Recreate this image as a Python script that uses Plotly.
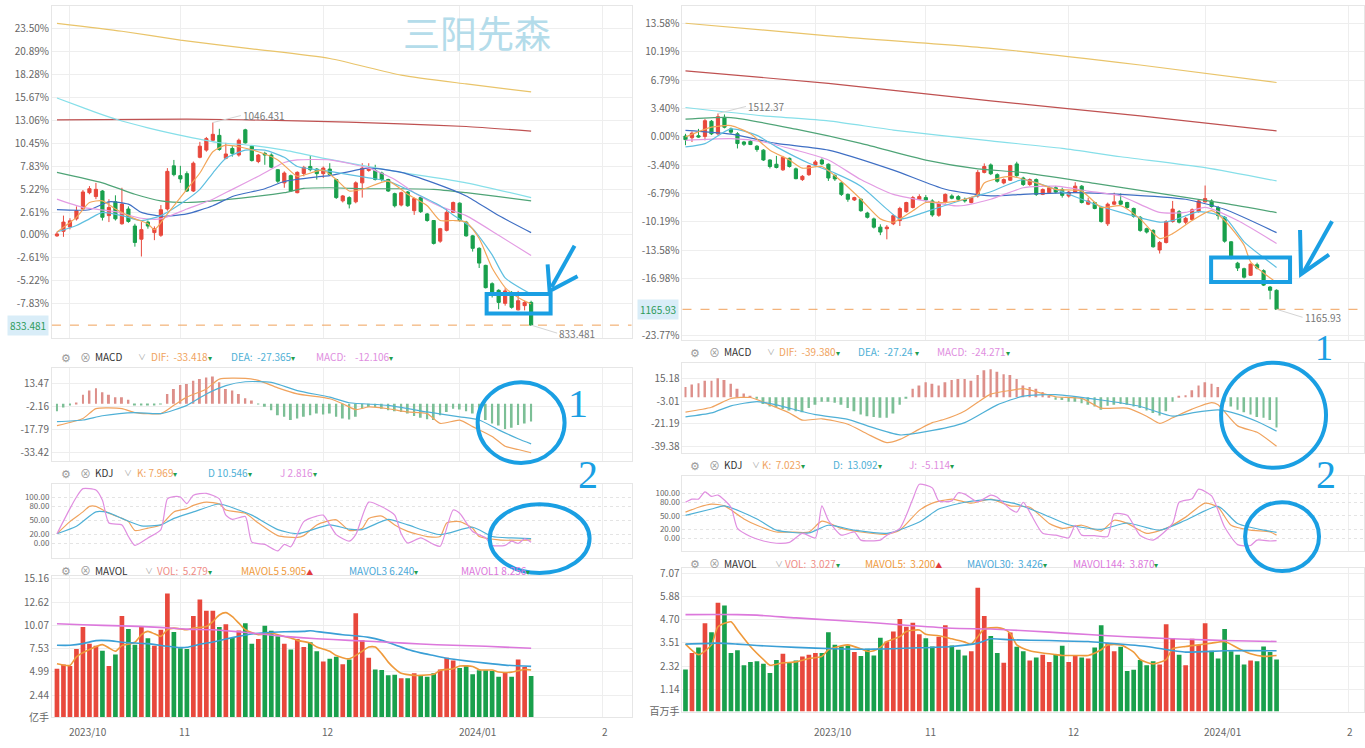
import plotly.graph_objects as go

W, H = 1365, 748
RED, GREEN = "#e8483c", "#19a04c"
MARK = "#1a9fe3"
GRID = "#eeeeee"
FONT = "Noto Sans CJK SC, Noto Sans, sans-serif"

MONTH_TEXT = ["2023/10", "11", "12", "2024/01", "2"]
L_MONTH_IDX = [2, 19, 41, 62, 84]
R_MONTH_IDX = [20, 37, 59, 80, 102]

# ---------------- left chart: % change, 2023-09-27 .. 2024-01-17 ----------------
L_OPEN = [-0.11, 0.41, 0.90, 1.83, 2.95, 4.81, 4.37, 5.00, 2.20, 3.77,
          1.27, 2.95, 1.01, -0.49, 1.46, 0.26, -0.04, 2.95, 7.87, 6.75,
          6.98, 5.00, 8.84, 9.66, 10.78, 11.34, 8.73, 9.85, 9.10, 11.97,
          10.11, 8.36, 9.29, 9.10, 7.43, 5.93, 6.75, 4.81, 7.00, 7.80,
          7.50, 6.98, 7.50, 6.31, 3.88, 4.25, 3.77, 5.93, 7.35, 7.35,
          7.05, 6.31, 4.70, 3.40, 4.89, 2.76, 4.25, 2.39, 1.64, -0.71,
          0.52, 2.57, 3.62, 1.46, -0.11, -1.53, -3.47, -5.56, -6.31, -7.80,
          -6.57, -8.54, -8.06, -7.69]
L_CLOSE = [0.11, 1.46, 1.60, 2.76, 4.89, 5.26, 5.19, 2.01, 3.13, 1.83,
           3.51, 1.53, -0.86, 0.60, 1.01, 0.71, 2.87, 7.24, 6.87, 6.38,
           5.00, 8.17, 10.11, 10.97, 11.46, 9.74, 9.22, 9.29, 10.78, 10.49,
           8.47, 9.10, 9.10, 7.72, 6.12, 7.05, 5.00, 7.13, 7.69, 7.43,
           6.98, 7.61, 6.87, 4.25, 4.44, 3.51, 5.93, 7.61, 7.61, 6.31,
           6.31, 5.00, 3.32, 4.81, 3.32, 4.14, 2.65, 1.64, -0.97, 0.71,
           2.57, 3.69, 1.64, -0.11, -1.53, -3.21, -6.01, -6.75, -7.69, -6.38,
           -8.25, -7.50, -7.69, -10.28]
L_HIGH = [0.34, 2.20, 1.90, 3.25, 5.11, 5.56, 5.93, 5.10, 4.07, 4.51,
          5.37, 3.25, 1.27, 1.46, 1.64, 0.97, 3.40, 7.61, 8.54, 7.87,
          7.24, 8.36, 10.60, 11.16, 12.80, 12.09, 10.49, 10.11, 10.97, 12.09,
          10.22, 9.22, 9.48, 9.29, 7.50, 7.24, 6.87, 7.24, 7.87, 9.10,
          7.61, 7.80, 8.17, 6.40, 4.55, 4.40, 6.10, 8.17, 8.17, 7.99,
          7.20, 6.40, 4.81, 4.93, 5.00, 4.25, 4.37, 2.50, 1.70, 0.80,
          2.95, 3.80, 3.70, 1.60, 0.00, -1.40, -3.40, -5.40, -6.20, -6.08,
          -6.40, -6.38, -7.50, -7.50]
L_LOW = [-0.22, -0.22, 0.63, 1.64, 2.76, 4.63, 4.07, 1.64, 1.46, 1.64,
         1.16, 1.38, -1.34, -2.46, 0.71, -0.60, -0.22, 2.76, 6.68, 5.93,
         4.89, 4.89, 8.73, 9.48, 10.71, 9.59, 8.62, 8.92, 8.92, 10.41,
         8.36, 8.17, 7.99, 7.61, 5.93, 5.37, 4.89, 4.74, 6.68, 7.24,
         6.31, 6.49, 6.75, 4.10, 3.70, 3.02, 3.60, 4.25, 7.20, 6.20,
         6.10, 4.90, 3.13, 3.25, 3.20, 2.28, 2.50, 1.50, -1.10, -0.90,
         0.40, 2.50, 1.50, -0.20, -1.90, -3.77, -6.10, -7.13, -8.47, -8.06,
         -8.40, -8.60, -8.60, -10.30]
L_VOL = [5.33, 5.80, 5.62, 7.49, 9.88, 8.07, 7.85, 7.28, 5.62, 6.88,
         11.10, 9.66, 7.96, 9.88, 8.65, 7.85, 9.59, 13.56, 9.34, 7.57,
         7.49, 11.10, 12.91, 11.68, 11.68, 9.88, 10.20, 8.69, 9.52, 10.31,
         8.07, 8.58, 10.02, 9.48, 8.87, 8.07, 7.42, 8.58, 7.71, 8.22,
         7.24, 6.12, 6.41, 6.63, 5.83, 6.34, 11.39, 8.43, 6.52, 5.25,
         5.18, 4.60, 4.68, 4.28, 4.28, 4.82, 4.60, 4.46, 4.82, 5.25,
         6.52, 6.23, 5.40, 5.72, 4.71, 5.15, 5.15, 5.07, 4.46, 4.89,
         4.46, 6.34, 5.51, 4.53]
L_HIST = [-5.1, -2.5, -1.0, 0.5, 6.1, 9.0, 10.6, 7.9, 6.1, 4.5,
          4.5, 2.7, -1.0, -1.0, -1.2, -1.0, -0.5, 6.7, 10.1, 12.8,
          13.5, 15.7, 16.8, 17.9, 18.6, 14.6, 10.1, 9.0, 6.7, 3.8,
          2.2, -0.5, -2.0, -4.5, -7.8, -8.9, -11.1, -10.0, -8.9, -7.8,
          -6.7, -7.4, -6.7, -8.9, -10.0, -10.7, -8.9, -3.4, -2.2, -2.2,
          -3.4, -4.5, -5.1, -5.6, -6.7, -8.3, -9.6, -10.5, -11.1, -7.8,
          -5.6, -3.4, -4.0, -5.1, -6.7, -8.9, -11.1, -13.4, -14.9, -17.2,
          -16.3, -14.5, -13.4, -12.1]

# lines as (session index, value)
L_MA500 = [(0, 24.1), (10, 23.2), (19, 22.2), (30, 21.2), (42, 20.1), (53, 18.2), (63, 17.2), (73, 16.3)]
L_MA250 = [(0, 13.1), (20, 13.2), (37, 13.0), (53, 12.65), (63, 12.35), (73, 11.83)]
L_MA120 = [(0, 15.6), (4, 14.5), (9, 13.2), (14, 12.2), (20, 11.2), (25, 10.5), (30, 10.2), (35, 9.66),
           (42, 8.6), (53, 7.13), (63, 5.93), (73, 4.25)]
L_MA60 = [(0, 7.13), (7, 5.93), (12, 4.63), (16, 3.88), (20, 3.69), (24, 3.88), (30, 4.33), (35, 4.81),
          (38, 5.3), (42, 5.37), (48, 5.26), (53, 5.26), (58, 5.19), (63, 4.81), (68, 4.37), (73, 3.88)]
L_MA30 = [(0, 2.87), (5, 2.87), (8, 3.77), (11, 3.5), (13, 2.57), (16, 2.13), (20, 2.39), (24, 3.32),
          (27, 4.37), (32, 5.26), (35, 6.08), (40, 6.6), (42, 6.75), (48, 7.61), (53, 7.13), (58, 5.93),
          (63, 4.44), (68, 2.2), (73, 0.26)]
L_MA20 = [(0, 4.07), (4, 3.13), (9, 2.65), (13, 1.9), (16, 1.83), (20, 2.95), (24, 4.07), (27, 5.19),
          (31, 6.68), (35, 8.25), (37, 8.54), (42, 8.54), (48, 7.61), (52, 6.31), (55, 4.81), (59, 3.25),
          (63, 2.2), (68, -0.04), (73, -2.35)]
L_MA10 = [(0, 0.34), (3, 1.08), (5, 1.83), (7, 2.57), (10, 2.2), (13, 1.64), (16, 2.2), (19, 3.51),
          (22, 5.19), (24, 7.05), (26, 8.73), (29, 9.66), (32, 9.66), (35, 8.84), (37, 7.8), (42, 7.24),
          (48, 6.49), (51, 6.12), (55, 4.81), (59, 3.32), (61, 2.28), (64, 0.71), (67, -2.28), (69, -4.89),
          (73, -6.75)]
L_MA5 = [(0, 0.34), (3, 2.0), (5, 3.69), (7, 3.88), (9, 2.95), (12, 1.83), (14, 1.27), (15, 0.6),
         (17, 2.4), (20, 5.19), (22, 7.05), (24, 9.48), (26, 10.22), (28, 10.04), (31, 9.48), (34, 8.54),
         (36, 7.24), (37, 6.68), (41, 7.37), (43, 6.3), (45, 5.0), (47, 5.19), (51, 6.12), (54, 4.63),
         (57, 3.32), (59, 1.64), (61, 1.64), (63, 1.46), (65, -0.41), (67, -3.77), (69, -6.0), (71, -7.13),
         (73, -7.87)]
L_MAVOL5 = [(0, 5.87), (2, 5.69), (3, 6.63), (5, 7.42), (7, 7.96), (8, 7.6), (9, 7.24), (10, 7.85),
            (12, 8.22), (13, 9.05), (14, 9.41), (15, 9.15), (16, 8.87), (17, 9.59), (18, 9.77), (20, 9.59),
            (21, 9.77), (23, 9.95), (24, 10.49), (25, 11.21), (26, 11.46), (27, 11.03), (28, 10.31),
            (29, 9.59), (31, 9.05), (33, 9.23), (34, 9.05), (36, 8.69), (37, 8.43), (39, 8.14), (40, 7.71),
            (42, 7.24), (43, 6.77), (45, 6.41), (47, 7.24), (48, 7.71), (49, 7.71), (50, 6.98), (51, 6.05),
            (52, 5.33), (53, 4.82), (55, 4.6), (56, 4.6), (58, 4.71), (59, 5.15), (61, 5.33), (62, 5.62),
            (64, 5.58), (65, 5.22), (67, 5.18), (68, 4.96), (70, 4.96), (72, 5.25), (73, 5.18)]
L_MAVOL30 = [(0, 7.89), (2, 7.89), (4, 8.07), (6, 8.4), (8, 8.4), (10, 8.22), (12, 8.14), (14, 8.07),
             (17, 7.78), (19, 7.64), (20, 7.67), (22, 8.0), (24, 8.26), (26, 8.58), (28, 8.87), (30, 9.12),
             (32, 9.26), (35, 9.37), (38, 9.41), (39, 9.48), (41, 9.3), (44, 9.05), (46, 8.94), (48, 8.76),
             (50, 8.43), (52, 7.96), (54, 7.42), (56, 7.06), (58, 6.77), (60, 6.48), (63, 6.19), (66, 5.94),
             (69, 5.72), (73, 5.58)]
L_MAVOL144 = [(0, 10.24), (4, 10.13), (10, 10.02), (15, 9.88), (20, 9.66), (24, 9.59), (26, 9.48),
              (30, 9.23), (35, 8.87), (40, 8.61), (45, 8.43), (51, 8.22), (56, 8.03), (61, 7.89),
              (66, 7.78), (73, 7.56)]
L_DIF = [(0, -14.9), (4, -10.0), (6, -3.3), (10, -3.3), (12, -6.0), (16, -6.7), (18, -1.1), (20, 4.5),
         (23, 10.1), (25, 16.8), (29, 17.3), (31, 15.9), (34, 10.8), (37, 6.7), (42, 3.4), (44, 0.0),
         (46, -4.0), (48, -2.2), (51, -3.4), (54, -5.6), (57, -6.7), (59, -13.4), (62, -11.2),
         (64, -15.6), (67, -22.3), (69, -29.0), (71, -31.2), (73, -33.4)]
L_DEA = [(0, -12.2), (4, -11.1), (7, -8.2), (12, -6.0), (16, -6.7), (20, -1.1), (23, 6.7), (26, 12.4),
         (29, 15.0), (33, 14.6), (37, 9.0), (42, 4.5), (45, 0.7), (51, -1.1), (57, -5.6), (62, -8.9),
         (65, -11.1), (68, -17.8), (71, -23.9), (73, -27.4)]
L_K = [(0, 21), (2, 47), (4, 68), (5, 80), (6, 80), (8, 65), (10, 54), (11, 47), (12, 28), (14, 33),
       (16, 40), (18, 68), (20, 75), (21, 82), (23, 89), (25, 85), (26, 72), (29, 65), (31, 44), (34, 17),
       (37, 13), (38, 17), (40, 40), (43, 51), (45, 28), (47, 33), (48, 54), (50, 59), (52, 40), (54, 26),
       (57, 15), (59, 15), (60, 44), (62, 47), (64, 33), (65, 15), (68, 8), (71, 7), (73, 8)]
L_D = [(0, 21), (3, 37), (6, 68), (8, 66), (10, 54), (13, 38), (16, 40), (18, 54), (21, 68), (25, 85),
       (28, 72), (30, 61), (34, 30), (37, 21), (42, 40), (45, 31), (47, 30), (51, 52), (54, 40), (59, 19),
       (64, 35), (67, 15), (70, 12), (73, 10.5)]
L_J = [(0, 21), (2, 75), (3, 100), (4, 118), (6, 115), (7, 93), (8, 44), (10, 40), (11, 15), (12, -4),
       (14, 12), (16, 30), (17, 96), (18, 101), (19, 100), (20, 86), (21, 104), (23, 108), (25, 96),
       (26, 61), (27, 52), (29, 58), (30, 3), (32, -2), (34, -16), (35, -2), (36, -7), (38, 47), (40, 59),
       (41, 61), (43, 19), (45, 5), (46, 19), (48, 89), (50, 79), (52, 61), (53, 21), (54, 1), (56, 12),
       (58, -2), (59, -6), (61, 72), (62, 65), (64, 26), (66, 12), (67, -4), (69, -4), (70, 5), (71, 0),
       (72, 10), (73, 2.8)]

# ---------------- right chart: % change, 2023-09-01 .. 2024-01-17 ----------------
R_OPEN = [0.08, -0.12, 0.12, 0.04, 1.85, 0.35, 2.32, 0.94, 0.35, -0.63,
          -0.55, -1.14, -1.61, -2.79, -3.30, -3.97, -2.59, -3.85, -5.14, -4.55,
          -3.38, -2.79, -3.30, -4.67, -5.54, -6.91, -7.58, -7.50, -9.15, -9.85,
          -10.84, -11.03, -10.44, -10.05, -8.99, -8.48, -7.50, -7.30, -7.70, -9.42,
          -7.81, -7.10, -7.18, -7.50, -7.89, -7.11, -4.28, -3.38, -4.55, -5.54,
          -5.22, -3.26, -4.95, -5.73, -5.14, -6.91, -6.71, -6.12, -6.32, -7.11,
          -6.64, -5.93, -8.09, -7.89, -8.48, -10.44, -8.09, -7.70, -7.89, -8.60,
          -9.66, -11.03, -11.23, -13.58, -12.68, -10.17, -8.99, -10.25, -9.93, -8.99,
          -7.81, -7.70, -8.48, -9.66, -12.60, -15.16, -15.82, -16.61, -15.35, -16.06,
          -18.02, -18.41]
R_CLOSE = [-0.35, 0.43, -0.04, 1.92, 0.35, 2.40, 1.14, 0.55, -0.82, -0.90,
           -0.94, -1.53, -2.79, -3.57, -3.69, -2.47, -3.57, -5.03, -4.75, -3.49,
           -3.02, -3.26, -4.95, -5.06, -6.91, -7.50, -7.30, -8.87, -9.66, -10.84,
           -11.43, -10.84, -9.46, -8.60, -7.89, -7.30, -7.18, -7.58, -9.38, -7.89,
           -6.91, -7.38, -7.50, -7.70, -7.30, -4.28, -3.57, -4.44, -5.34, -5.14,
           -3.46, -4.67, -5.73, -5.14, -6.91, -6.32, -6.12, -6.64, -7.03, -6.64,
           -5.93, -7.89, -7.70, -8.60, -10.17, -8.09, -7.81, -8.09, -8.48, -9.54,
           -11.23, -11.43, -13.19, -12.68, -10.17, -8.68, -10.25, -9.78, -8.76, -7.70,
           -7.42, -8.37, -9.46, -12.52, -14.57, -15.74, -16.84, -15.27, -15.74, -17.79,
           -18.41, -20.69]
R_HIGH = [0.35, 0.63, 0.94, 2.12, 2.00, 2.79, 2.67, 1.10, 0.55, -0.50,
          -0.40, -1.00, -1.50, -2.70, -2.30, -2.30, -2.50, -3.70, -4.60, -3.40,
          -2.80, -2.60, -3.20, -4.50, -5.40, -6.80, -7.20, -7.40, -9.00, -9.70,
          -10.50, -10.60, -9.30, -8.40, -7.80, -7.10, -6.90, -7.00, -7.50, -7.70,
          -6.80, -6.90, -7.00, -7.30, -7.20, -4.00, -3.20, -3.20, -4.40, -5.00,
          -3.38, -3.00, -4.80, -5.00, -5.00, -6.20, -5.90, -5.90, -6.10, -6.50,
          -5.46, -5.80, -7.30, -7.80, -8.30, -7.90, -6.71, -6.80, -7.80, -8.50,
          -9.50, -10.90, -11.10, -12.50, -10.00, -7.70, -8.80, -9.60, -8.60, -7.50,
          -5.85, -7.50, -8.30, -9.50, -12.50, -15.00, -15.70, -15.20, -15.10, -15.90,
          -17.90, -18.30]
R_LOW = [-1.02, -0.63, -0.12, -0.43, 0.20, 0.16, 1.00, 0.30, -1.41, -1.10,
         -1.00, -1.80, -2.90, -3.80, -3.80, -4.10, -3.70, -5.10, -5.30, -4.70,
         -3.60, -3.40, -5.30, -5.30, -7.10, -7.80, -7.70, -9.00, -9.80, -11.00,
         -11.80, -12.30, -10.60, -10.70, -9.10, -8.60, -7.60, -7.80, -9.60, -9.60,
         -8.00, -7.50, -7.70, -7.90, -8.00, -7.30, -4.40, -4.60, -5.50, -5.70,
         -5.30, -4.80, -5.90, -5.90, -7.10, -7.00, -6.80, -6.80, -7.30, -7.30,
         -6.70, -8.00, -8.20, -8.70, -10.30, -10.70, -8.20, -8.20, -8.60, -9.70,
         -11.40, -11.60, -13.30, -14.00, -12.80, -10.30, -10.40, -10.50, -10.00, -9.10,
         -7.90, -8.50, -9.93, -12.70, -14.70, -16.10, -17.00, -16.70, -15.90, -17.90,
         -19.50, -20.75]
R_VOL = [2.15, 2.99, 3.28, 4.51, 4.05, 5.57, 5.43, 2.99, 3.14, 2.37,
         2.54, 2.57, 2.44, 1.97, 2.64, 2.96, 2.54, 2.61, 2.82, 2.91,
         2.99, 2.99, 4.05, 3.41, 3.33, 3.38, 3.04, 2.84, 3.21, 2.86,
         3.78, 3.58, 4.09, 4.73, 4.34, 4.54, 3.95, 3.75, 3.33, 3.83,
         4.42, 3.38, 3.16, 2.86, 3.08, 6.33, 4.89, 3.87, 2.99, 2.49,
         4.04, 3.31, 3.08, 2.61, 2.77, 2.91, 2.54, 2.91, 3.36, 2.54,
         2.87, 2.77, 2.71, 3.28, 4.42, 3.50, 3.08, 3.31, 2.07, 2.14,
         2.64, 2.37, 2.57, 2.40, 4.46, 3.75, 2.91, 2.37, 3.72, 3.41,
         4.51, 3.11, 2.71, 4.22, 3.08, 2.91, 2.40, 2.61, 2.57, 3.33,
         3.04, 2.66]
R_HIST = [8.2, 10.2, 11.3, 13.4, 13.4, 15.4, 13.9, 10.8, 6.9, 3.0,
          1.0, -1.0, -5.4, -7.4, -8.0, -9.5, -10.6, -11.3, -12.1, -8.7,
          -6.1, -3.5, -3.5, -4.3, -6.1, -8.7, -11.3, -13.9, -15.2, -15.8,
          -16.5, -16.5, -13.1, -6.1, -1.0, 6.9, 9.5, 12.1, 10.8, 9.5,
          12.1, 13.9, 14.7, 14.7, 13.4, 18.0, 21.7, 22.5, 20.6, 18.6,
          18.0, 14.7, 9.5, 8.2, 6.9, 4.3, 1.0, -2.0, -2.2, -3.5,
          -3.5, -4.8, -6.1, -7.4, -10.0, -6.9, -6.1, -5.4, -6.1, -7.4,
          -8.7, -10.6, -12.6, -14.7, -11.3, -3.5, 0.5, 1.7, 5.6, 9.5,
          12.1, 10.8, 8.2, -3.5, -7.4, -10.0, -12.1, -13.9, -15.8, -16.5,
          -18.3, -24.3]

R_MA500 = [(0, 13.6), (22, 12.1), (47, 10.6), (70, 8.6), (91, 6.5)]
R_MA250 = [(0, 7.9), (22, 6.4), (47, 4.3), (70, 2.5), (91, 0.7)]
R_MA120 = [(0, 3.5), (12, 2.5), (22, 1.9), (32, 0.8), (47, -0.5), (58, -1.4), (67, -2.4), (80, -3.7),
           (91, -5.3)]
R_MA60 = [(0, 2.1), (7, 2.3), (17, 0.9), (27, -0.8), (37, -2.8), (45, -3.85), (52, -4.3), (63, -5.6),
          (73, -6.8), (83, -8.0), (91, -9.1)]
R_MA30 = [(0, 0.75), (7, 0.3), (14, -0.8), (22, -1.6), (32, -4.0), (40, -6.3), (47, -7.1), (52, -6.9),
          (60, -6.7), (67, -6.9), (77, -7.5), (83, -8.7), (91, -11.5)]
R_MA20 = [(0, -0.43), (7, -0.24), (12, -0.63), (17, -1.61), (22, -2.79), (27, -5.14), (32, -6.91),
          (37, -7.7), (42, -8.3), (47, -7.5), (52, -6.12), (57, -5.93), (62, -6.52), (67, -7.11),
          (73, -9.07), (77, -9.07), (80, -8.48), (85, -10.05), (91, -12.8)]
R_MA10 = [(0, -1.22), (3, -0.82), (7, 0.94), (11, 0.16), (14, -1.22), (19, -3.18), (23, -4.36),
          (27, -5.93), (31, -8.68), (33, -9.85), (36, -9.27), (39, -8.48), (43, -7.5), (47, -6.6),
          (52, -5.14), (57, -6.32), (63, -8.09), (67, -9.07), (73, -10.25), (75, -10.05), (79, -8.99),
          (83, -9.66), (86, -12.6), (91, -15.67)]
R_MA5 = [(0, -0.04), (4, 1.14), (7, 1.33), (10, 0.35), (13, -1.61), (16, -2.79), (18, -3.77), (21, -3.57),
         (24, -5.34), (27, -7.5), (30, -9.85), (32, -10.25), (35, -8.87), (37, -7.89), (40, -7.89),
         (43, -7.5), (45, -6.91), (46, -5.54), (50, -4.75), (54, -5.54), (57, -6.32), (61, -6.52),
         (64, -8.48), (67, -8.28), (70, -9.85), (73, -12.21), (75, -11.62), (78, -10.05), (81, -8.87),
         (83, -10.05), (86, -13.0), (87, -15.0), (89, -16.33), (91, -17.5)]
R_MAVOL5 = [(0, 3.45), (2, 2.91), (4, 3.41), (5, 4.34), (7, 4.59), (8, 4.17), (10, 3.33), (12, 2.66),
            (13, 2.37), (15, 2.49), (17, 2.54), (19, 2.71), (21, 2.82), (22, 3.16), (24, 3.36), (25, 3.41),
            (27, 3.21), (28, 3.08), (29, 3.11), (30, 3.28), (31, 3.58), (33, 3.83), (34, 4.09), (36, 4.17),
            (37, 3.95), (39, 3.88), (41, 3.72), (43, 3.55), (44, 3.45), (45, 3.83), (46, 4.22), (48, 4.29),
            (49, 4.22), (50, 4.0), (51, 3.41), (53, 3.11), (55, 2.99), (57, 2.91), (58, 2.87), (60, 2.87),
            (62, 2.87), (64, 3.16), (65, 3.41), (67, 3.41), (69, 3.04), (70, 2.66), (72, 2.44), (74, 2.66),
            (75, 3.21), (77, 3.33), (79, 3.41), (81, 3.5), (83, 3.58), (85, 3.25), (87, 2.95), (89, 2.82),
            (91, 2.87)]
R_MAVOL30 = [(0, 3.45), (5, 3.5), (8, 3.45), (11, 3.38), (17, 3.28), (23, 3.21), (29, 3.19), (35, 3.25),
             (41, 3.33), (45, 3.5), (47, 3.72), (50, 3.67), (56, 3.63), (62, 3.58), (65, 3.5), (71, 3.33),
             (77, 3.04), (83, 3.11), (91, 3.11)]
R_MAVOL144 = [(0, 4.96), (8, 4.96), (11, 4.93), (17, 4.79), (23, 4.67), (29, 4.54), (35, 4.39),
              (41, 4.26), (47, 4.22), (53, 4.12), (59, 4.0), (65, 3.88), (71, 3.78), (77, 3.7), (83, 3.63),
              (91, 3.58)]
R_DIF = [(0, -11.9), (4, -8.0), (7, -1.0), (10, -0.2), (13, -6.1), (16, -12.6), (18, -18.4), (21, -17.3),
         (25, -21.7), (28, -29.5), (31, -36.5), (33, -33.9), (36, -25.6), (38, -20.4), (40, -17.5),
         (43, -11.0), (45, -4.0), (47, 2.5), (50, 5.5), (52, 6.9), (55, 3.0), (57, 0.4), (61, -0.9),
         (64, -8.7), (68, -8.7), (71, -15.2), (73, -21.0), (75, -16.5), (78, -9.5), (81, -4.3), (82, -6.1),
         (85, -23.0), (88, -28.2), (91, -39.4)]
R_DEA = [(0, -15.8), (4, -12.6), (7, -6.9), (11, -3.5), (14, -6.1), (20, -14.0), (25, -17.8), (28, -23.0),
         (33, -30.3), (37, -27.7), (43, -20.4), (48, -6.1), (52, 0.9), (57, 2.2), (64, -2.2), (70, -7.4),
         (75, -15.2), (78, -12.5), (82, -10.2), (85, -13.5), (88, -19.5), (91, -27.2)]
R_K = [(0, 58), (2, 69), (4, 76), (6, 72), (9, 43), (11, 29), (14, 14), (16, 14), (19, 14), (21, 38),
       (24, 22), (27, 14), (31, 9), (33, 18), (36, 62), (38, 78), (41, 87), (44, 78), (47, 87), (50, 72),
       (53, 69), (56, 33), (58, 22), (61, 29), (64, 16), (66, 40), (68, 33), (71, 11), (74, 22), (77, 47),
       (80, 78), (82, 69), (84, 29), (87, 18), (90, 14), (91, 7)]
R_D = [(0, 51), (4, 65), (6, 72), (11, 43), (14, 18), (19, 12), (22, 29), (26, 18), (31, 11), (36, 36),
       (39, 65), (43, 80), (47, 86), (51, 76), (55, 54), (59, 30), (64, 20), (68, 34), (73, 18), (77, 40),
       (82, 71), (85, 33), (91, 13)]
R_J = [(0, 80), (1, 87), (2, 87), (3, 103), (4, 93), (5, 96), (7, 69), (8, 22), (10, 4), (12, -6),
       (14, -11), (16, -9), (18, 11), (20, 1), (21, 72), (22, 40), (24, 7), (26, 14), (27, -4), (30, -4),
       (31, 7), (33, 22), (35, 87), (36, 120), (38, 112), (39, 83), (41, 83), (42, 101), (43, 98),
       (45, 81), (47, 96), (48, 91), (50, 65), (51, 58), (52, 80), (53, 58), (55, 11), (57, 7), (59, 1),
       (60, 29), (61, 7), (63, 6), (65, 4), (66, 54), (68, 51), (70, 6), (72, -4), (75, 33), (76, 80),
       (78, 88), (79, 109), (81, 94), (83, 25), (85, -14), (87, -16), (88, -4), (90, -6), (91, -5.1)]

# axis ticks
L_PCT_TICKS = [23.50, 20.89, 18.28, 15.67, 13.06, 10.45, 7.83, 5.22, 2.61, 0.00, -2.61, -5.22, -7.83]
R_PCT_TICKS = [13.58, 10.19, 6.79, 3.40, 0.00, -3.40, -6.79, -10.19, -13.58, -16.98, -23.77]
L_MACD_TICKS = [13.47, -2.16, -17.79, -33.42]
R_MACD_TICKS = [15.18, -3.01, -21.19, -39.38]
KDJ_TICKS = [100, 80, 50, 20, 0]
L_VOL_TICKS = [15.16, 12.62, 10.07, 7.53, 4.99, 2.44]
R_VOL_TICKS = [7.07, 5.88, 4.70, 3.51, 2.32, 1.14]

MA_COLORS = ["#e9c46a", "#bf5151", "#86dfe9", "#4fa477", "#3f6fc4", "#e39be3", "#5fbfe0", "#f3a65a"]
C_ORANGE, C_BLUE, C_PINK = "#f0a35e", "#4fb0d6", "#e08ee0"
VOL_MA_COLORS = ["#ef9a3c", "#3a9fd6", "#dc78dc"]

fig = go.Figure()


def xy(n):
    return ("x" if n == 1 else "x%d" % n), ("y" if n == 1 else "y%d" % n)


def line(pts, color, n, width=1.2):
    xa, ya = xy(n)
    fig.add_trace(go.Scatter(x=[p[0] for p in pts], y=[p[1] for p in pts], mode="lines",
                             line=dict(color=color, width=width, shape="spline", smoothing=0.6),
                             xaxis=xa, yaxis=ya, hoverinfo="skip"))


def add_chart(n0, o, c, h, l, mas, vol, vol_mas, hist, dif, dea, k, d, j):
    xs = list(range(len(o)))
    xa, ya = xy(n0)
    fig.add_trace(go.Candlestick(x=xs, open=o, high=h, low=l, close=c, whiskerwidth=0,
                                 increasing=dict(line=dict(color=RED, width=1), fillcolor=RED),
                                 decreasing=dict(line=dict(color=GREEN, width=1), fillcolor=GREEN),
                                 xaxis=xa, yaxis=ya, hoverinfo="skip"))
    for pts, col in zip(mas, MA_COLORS):
        line(pts, col, n0)
    # MACD
    xa, ya = xy(n0 + 1)
    fig.add_trace(go.Bar(x=xs, y=hist, width=0.3,
                         marker=dict(color=["#dd8f8a" if v >= 0 else "#7cbf96" for v in hist], line_width=0),
                         xaxis=xa, yaxis=ya, hoverinfo="skip"))
    line(dif, C_ORANGE, n0 + 1)
    line(dea, C_BLUE, n0 + 1)
    # KDJ
    line(k, C_ORANGE, n0 + 2)
    line(d, C_BLUE, n0 + 2)
    line(j, C_PINK, n0 + 2)
    # volume
    xa, ya = xy(n0 + 3)
    fig.add_trace(go.Bar(x=xs, y=vol, width=0.72,
                         marker=dict(color=[RED if c[i] >= o[i] else GREEN for i in xs], line_width=0),
                         xaxis=xa, yaxis=ya, hoverinfo="skip"))
    for pts, col in zip(vol_mas, VOL_MA_COLORS):
        line(pts, col, n0 + 3, 1.6)


add_chart(1, L_OPEN, L_CLOSE, L_HIGH, L_LOW,
          [L_MA500, L_MA250, L_MA120, L_MA60, L_MA30, L_MA20, L_MA10, L_MA5],
          L_VOL, [L_MAVOL5, L_MAVOL30, L_MAVOL144], L_HIST, L_DIF, L_DEA, L_K, L_D, L_J)
add_chart(5, R_OPEN, R_CLOSE, R_HIGH, R_LOW,
          [R_MA500, R_MA250, R_MA120, R_MA60, R_MA30, R_MA20, R_MA10, R_MA5],
          R_VOL, [R_MAVOL5, R_MAVOL30, R_MAVOL144], R_HIST, R_DIF, R_DEA, R_K, R_D, R_J)

# panel geometry in screen pixels: (x-left, x-right, top, bottom, y-range, ticks, labels, griddash, font)
PANELS = {
    1: (52, 632, 0, 338, [-11.76, 26.08], L_PCT_TICKS, ["%.2f%%" % v for v in L_PCT_TICKS], "solid", 10),
    2: (52, 632, 368, 463, [-39.0, 24.64], L_MACD_TICKS, ["%.2f" % v for v in L_MACD_TICKS], "solid", 10),
    3: (52, 632, 486, 562, [-31.7, 129], KDJ_TICKS, ["%.2f" % v for v in KDJ_TICKS], "dot", 8),
    4: (52, 632, 580, 724, [0, 15.48], L_VOL_TICKS + [0], ["%.2f" % v for v in L_VOL_TICKS] + ["亿手"], "solid", 10),
    5: (683, 1365, 0, 340, [-24.38, 15.67], R_PCT_TICKS, ["%.2f%%" % v for v in R_PCT_TICKS], "solid", 10),
    6: (683, 1365, 363, 455, [-44.9, 27.83], R_MACD_TICKS, ["%.2f" % v for v in R_MACD_TICKS], "solid", 10),
    7: (683, 1365, 478, 555, [-29, 139], KDJ_TICKS, ["%.2f" % v for v in KDJ_TICKS], "dot", 8),
    8: (683, 1365, 572, 718, [0, 7.34], R_VOL_TICKS + [0], ["%.2f" % v for v in R_VOL_TICKS] + ["百万手"], "solid", 10),
}
layout_axes = {}
for n, (x0, x1, top, bottom, yr, tv, tt, dash, fs) in PANELS.items():
    xa, ya = xy(n)
    left = n <= 4
    layout_axes["xaxis" if n == 1 else "xaxis%d" % n] = dict(
        domain=[x0 / W, x1 / W], range=[-0.77, 88.46] if left else [-0.46, 104.46], anchor=ya,
        tickvals=L_MONTH_IDX if left else R_MONTH_IDX, showticklabels=False, ticks="",
        showgrid=True, gridcolor=GRID, zeroline=False, showline=True, linecolor="#e6e6e6", mirror=True,
        rangeslider=dict(visible=False), fixedrange=True)
    layout_axes["yaxis" if n == 1 else "yaxis%d" % n] = dict(
        domain=[1 - bottom / H, 1 - top / H], range=yr, anchor=xa, tickvals=tv, ticktext=tt,
        showgrid=True, gridcolor="#e4e4e4" if dash == "dot" else GRID, griddash=dash, zeroline=False,
        showline=True, linecolor="#e6e6e6", mirror=True, ticks="",
        tickfont=dict(size=fs, color="#666"), fixedrange=True)

annotations = []
shapes = []


def px(x, y):
    return x / W, 1 - y / H


def text_at(x, y, txt, size=10, color="#555", family=FONT, anchor="left"):
    ax, ay = px(x, y)
    annotations.append(dict(x=ax, y=ay, xref="paper", yref="paper", text=txt, showarrow=False,
                            xanchor=anchor, yanchor="middle", font=dict(size=size, color=color, family=family)))


DOWN = "<span style='color:#1f9d4d;font-size:8px'>▾</span>"
UP = "<span style='color:#e23b3b;font-size:7px'>▲</span>"


def header(x0, y, name, items, chevron_dx):
    text_at(x0, y, "⚙", 11, "#9a9a9a")
    text_at(x0 + 19, y, "⊗", 11, "#9a9a9a")
    text_at(x0 + 34, y, name, 10, "#333")
    text_at(x0 + chevron_dx, y, "∨", 8, "#aaa")
    for x, txt, col in items:
        text_at(x, y, txt, 10, col)


header(59, 357, "MACD", [(149, "DIF:&nbsp;&nbsp;-33.418" + DOWN, C_ORANGE),
                         (229, "DEA:&nbsp;&nbsp;-27.365" + DOWN, C_BLUE),
                         (314, "MACD:&nbsp;&nbsp;&nbsp;&nbsp;-12.106" + DOWN, C_PINK)], 77)
header(59, 475, "KDJ", [(135, "K:&nbsp;7.969" + DOWN, C_ORANGE),
                        (206, "D 10.546" + DOWN, C_BLUE),
                        (278, "J 2.816" + DOWN, C_PINK)], 63)
header(59, 574, "MAVOL", [(155, "VOL:&nbsp;&nbsp;5.279" + DOWN, "#ef8c86"),
                          (239, "MAVOL5 5.905" + UP, VOL_MA_COLORS[0]),
                          (347, "MAVOL3 6.240" + DOWN, "#4aa8d8"),
                          (459, "MAVOL1 8.256" + DOWN, VOL_MA_COLORS[2])], 84)
header(689, 352, "MACD", [(778, "DIF:&nbsp;&nbsp;-39.380" + DOWN, C_ORANGE),
                          (857, "DEA:&nbsp;&nbsp;-27.24&nbsp;" + DOWN, C_BLUE),
                          (936, "MACD:&nbsp;&nbsp;-24.271" + DOWN, C_PINK)], 77)
header(689, 467, "KDJ", [(761, "K:&nbsp;&nbsp;7.023" + DOWN, C_ORANGE),
                         (832, "D:&nbsp;&nbsp;13.092" + DOWN, C_BLUE),
                         (908, "J:&nbsp;&nbsp;-5.114" + DOWN, C_PINK)], 62)
header(689, 567, "MAVOL", [(784, "VOL:&nbsp;&nbsp;3.027" + DOWN, "#ef8c86"),
                           (864, "MAVOL5:&nbsp;&nbsp;3.200" + UP, VOL_MA_COLORS[0]),
                           (966, "MAVOL30:&nbsp;&nbsp;3.426" + DOWN, "#4aa8d8"),
                           (1072, "MAVOL144:&nbsp;&nbsp;3.870" + DOWN, VOL_MA_COLORS[2])], 85)

# month labels under the volume panels
for n, idxs in ((4, L_MONTH_IDX), (8, R_MONTH_IDX)):
    for i, t in zip(idxs, MONTH_TEXT):
        annotations.append(dict(x=i, y=1 - 738 / H, xref=xy(n)[0], yref="paper", text=t, showarrow=False,
                                xanchor="left", xshift=-3, yanchor="middle",
                                font=dict(size=10, color="#666", family=FONT)))

# extreme labels, last-price line and axis tag
for n, o, c, h, hi_txt, last_txt, tag_x in ((1, L_OPEN, L_CLOSE, L_HIGH, "1046.431", "833.481", 7),
                                            (5, R_OPEN, R_CLOSE, R_HIGH, "1512.37", "1165.93", 637)):
    xa, ya = xy(n)
    ih = max(range(len(h)), key=lambda i: h[i])
    annotations.append(dict(x=ih, y=h[ih], xref=xa, yref=ya, text=hi_txt, showarrow=True, arrowhead=0,
                            arrowwidth=1, arrowcolor="#d4d4d4", ax=28, ay=-7, xanchor="left",
                            font=dict(size=10, color="#777", family=FONT)))
    last = len(c) - 1
    annotations.append(dict(x=last, y=c[last], xref=xa, yref=ya, text=last_txt, showarrow=True,
                            arrowhead=0, arrowwidth=1, arrowcolor="#d4d4d4", ax=26, ay=8, xanchor="left",
                            font=dict(size=10, color="#777", family=FONT)))
    shapes.append(dict(type="line", xref=xa + " domain", x0=0, x1=1, yref=ya, y0=c[last], y1=c[last],
                       line=dict(color="#f0a15a", width=1, dash="dash")))
    annotations.append(dict(x=tag_x / W, xref="paper", y=c[last], yref=ya, text=last_txt, showarrow=False,
                            xanchor="left", bgcolor="#d9edf8", borderpad=2,
                            font=dict(size=10, color="#2e9a5a", family=FONT)))

# hand-drawn blue marks
for x0, y0, x1, y1 in ((478, 383, 565, 465), (490, 507, 590, 577), (1222, 363, 1327, 470),
                       (1246, 505, 1320, 575)):
    (a0, b0), (a1, b1) = px(x0, y1), px(x1, y0)
    shapes.append(dict(type="circle", xref="paper", yref="paper", x0=a0, y0=b0, x1=a1, y1=b1,
                       line=dict(color=MARK, width=4)))
for x0, y0, x1, y1 in ((487, 293, 551, 313), (1212, 256, 1291, 281)):
    (a0, b0), (a1, b1) = px(x0, y1), px(x1, y0)
    shapes.append(dict(type="rect", xref="paper", yref="paper", x0=a0, y0=b0, x1=a1, y1=b1,
                       line=dict(color=MARK, width=4)))
for strokes in (((575, 244), (552, 286)), ((548, 263), (550, 290), (578, 275)),
                ((1333, 219), (1305, 270)), ((1301, 228), (1302, 273), (1330, 253))):
    pts = [px(x, y) for x, y in strokes]
    path = "M" + " L".join("%.5f,%.5f" % p for p in pts)
    shapes.append(dict(type="path", xref="paper", yref="paper", path=path,
                       line=dict(color=MARK, width=4)))
for x, y, t, s in ((578, 405, "1", 40), (588, 477, "2", 40), (1325, 348, "1", 36), (1327, 477, "2", 40)):
    text_at(x, y, t, s, MARK, "Liberation Serif", "center")
text_at(477, 26, "三阳先森", 37, "#b4dcea", "Noto Sans CJK SC", "center")

fig.update_layout(
    width=W, height=H, margin=dict(l=0, r=0, t=0, b=0), showlegend=False,
    paper_bgcolor="white", plot_bgcolor="white", barmode="overlay",
    font=dict(family=FONT, size=10, color="#666"),
    annotations=annotations, shapes=shapes, **layout_axes)

fig.write_html("out.html", config={"displayModeBar": False},
               post_script="document.body.style.margin='0';")
